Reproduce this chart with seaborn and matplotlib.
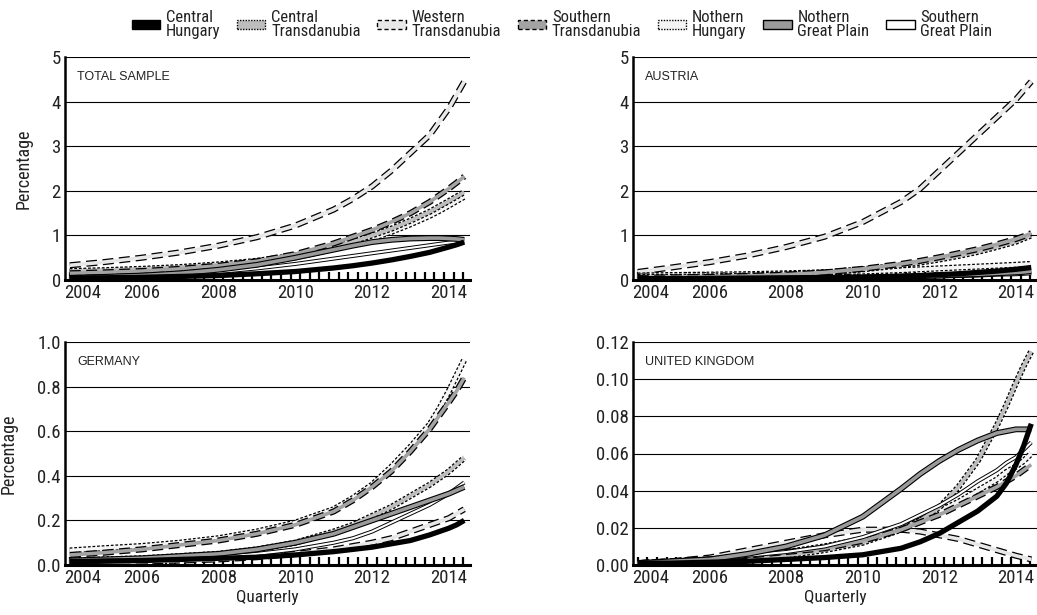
import numpy as np
import pandas as pd
import matplotlib
matplotlib.use("Agg")
import matplotlib.pyplot as plt
import seaborn as sns
from matplotlib.patches import Patch
from matplotlib.ticker import FixedLocator
from matplotlib import font_manager

# ---------------- data ----------------
years = [2004.125, 2005, 2006, 2007, 2008, 2009, 2010, 2011, 2011.5,
         2012, 2012.5, 2013, 2013.5, 2013.75, 2014, 2014.2, 2014.4]

regions = ["Central\nHungary", "Central\nTransdanubia", "Western\nTransdanubia",
           "Southern\nTransdanubia", "Nothern\nHungary", "Nothern\nGreat Plain",
           "Southern\nGreat Plain"]
region_keys = ["CH", "CT", "WT", "ST", "NH", "NGP", "SGP"]

panel_titles = ["TOTAL SAMPLE", "AUSTRIA", "GERMANY", "UNITED KINGDOM"]

# TOTAL SAMPLE
total_CH = [0.05, 0.05, 0.06, 0.08, 0.10, 0.14, 0.19, 0.27, 0.32, 0.38, 0.45, 0.53, 0.62, 0.68, 0.74, 0.79, 0.85]
total_CT = [0.20, 0.22, 0.25, 0.29, 0.35, 0.43, 0.55, 0.74, 0.86, 1.00, 1.15, 1.33, 1.53, 1.65, 1.77, 1.87, 1.97]
total_WT = [0.33, 0.40, 0.50, 0.62, 0.77, 0.96, 1.22, 1.58, 1.82, 2.10, 2.45, 2.85, 3.25, 3.55, 3.85, 4.15, 4.45]
total_ST = [0.15, 0.17, 0.20, 0.25, 0.32, 0.42, 0.58, 0.82, 0.97, 1.12, 1.30, 1.50, 1.75, 1.90, 2.05, 2.18, 2.32]
total_NH = [0.18, 0.20, 0.23, 0.27, 0.32, 0.40, 0.51, 0.69, 0.80, 0.93, 1.08, 1.25, 1.44, 1.55, 1.67, 1.77, 1.87]
total_NGP = [0.05, 0.07, 0.10, 0.15, 0.23, 0.34, 0.50, 0.68, 0.77, 0.85, 0.90, 0.93, 0.94, 0.94, 0.93, 0.92, 0.90]
total_SGP = [0.03, 0.05, 0.08, 0.12, 0.18, 0.26, 0.36, 0.48, 0.54, 0.60, 0.66, 0.72, 0.78, 0.81, 0.84, 0.86, 0.88]

# AUSTRIA
austria_CH = [0.03, 0.03, 0.03, 0.04, 0.04, 0.05, 0.06, 0.08, 0.10, 0.12, 0.14, 0.17, 0.20, 0.22, 0.24, 0.26, 0.28]
austria_CT = [0.07, 0.07, 0.08, 0.10, 0.13, 0.17, 0.24, 0.33, 0.39, 0.46, 0.54, 0.63, 0.74, 0.80, 0.86, 0.93, 1.00]
austria_WT = [0.18, 0.28, 0.40, 0.55, 0.74, 0.97, 1.30, 1.75, 2.05, 2.45, 2.85, 3.25, 3.65, 3.85, 4.05, 4.25, 4.45]
austria_ST = [0.05, 0.06, 0.07, 0.09, 0.12, 0.17, 0.25, 0.36, 0.43, 0.51, 0.60, 0.69, 0.80, 0.86, 0.92, 0.98, 1.05]
austria_NH = [0.10, 0.11, 0.12, 0.13, 0.15, 0.17, 0.19, 0.22, 0.24, 0.26, 0.28, 0.30, 0.32, 0.33, 0.34, 0.35, 0.36]
austria_NGP = [0.02, 0.02, 0.03, 0.03, 0.04, 0.05, 0.06, 0.08, 0.09, 0.10, 0.12, 0.13, 0.15, 0.16, 0.17, 0.18, 0.20]
austria_SGP = [0.01, 0.01, 0.02, 0.02, 0.03, 0.04, 0.05, 0.06, 0.07, 0.08, 0.09, 0.10, 0.12, 0.125, 0.13, 0.14, 0.15]

# GERMANY
germany_CH = [0.015, 0.018, 0.020, 0.025, 0.030, 0.035, 0.045, 0.060, 0.070, 0.080, 0.095, 0.110, 0.135, 0.150, 0.165, 0.180, 0.200]
germany_CT = [0.020, 0.025, 0.030, 0.040, 0.050, 0.070, 0.100, 0.150, 0.180, 0.220, 0.260, 0.310, 0.360, 0.390, 0.420, 0.450, 0.480]
germany_WT = [0.010, 0.012, 0.015, 0.020, 0.025, 0.035, 0.050, 0.070, 0.085, 0.100, 0.120, 0.150, 0.180, 0.195, 0.210, 0.230, 0.250]
germany_ST = [0.045, 0.055, 0.070, 0.090, 0.110, 0.140, 0.180, 0.240, 0.290, 0.350, 0.420, 0.510, 0.610, 0.670, 0.730, 0.780, 0.840]
germany_NH = [0.065, 0.075, 0.085, 0.100, 0.120, 0.150, 0.190, 0.250, 0.300, 0.360, 0.440, 0.530, 0.630, 0.700, 0.780, 0.850, 0.920]
germany_NGP = [0.020, 0.025, 0.030, 0.040, 0.050, 0.070, 0.100, 0.140, 0.170, 0.200, 0.230, 0.260, 0.290, 0.305, 0.320, 0.335, 0.350]
germany_SGP = [0.010, 0.015, 0.020, 0.025, 0.035, 0.050, 0.070, 0.100, 0.120, 0.150, 0.190, 0.230, 0.270, 0.295, 0.320, 0.345, 0.370]

# UNITED KINGDOM
uk_CH = [0.001, 0.001, 0.0015, 0.002, 0.003, 0.004, 0.0055, 0.009, 0.0125, 0.017, 0.023, 0.029, 0.037, 0.044, 0.054, 0.064, 0.076]
uk_CT = [0.001, 0.001, 0.002, 0.003, 0.005, 0.008, 0.012, 0.019, 0.024, 0.031, 0.042, 0.056, 0.075, 0.086, 0.098, 0.107, 0.115]
uk_WT = [0.001, 0.002, 0.004, 0.008, 0.012, 0.016, 0.019, 0.019, 0.018, 0.016, 0.014, 0.011, 0.008, 0.0065, 0.005, 0.004, 0.003]
uk_ST = [0.001, 0.002, 0.003, 0.005, 0.007, 0.009, 0.013, 0.019, 0.023, 0.027, 0.032, 0.037, 0.042, 0.045, 0.048, 0.051, 0.054]
uk_NH = [0.001, 0.002, 0.003, 0.005, 0.007, 0.010, 0.014, 0.020, 0.024, 0.029, 0.034, 0.040, 0.046, 0.050, 0.053, 0.056, 0.060]
uk_NGP = [0.001, 0.002, 0.003, 0.006, 0.010, 0.016, 0.026, 0.041, 0.049, 0.056, 0.062, 0.067, 0.071, 0.072, 0.073, 0.073, 0.073]
uk_SGP = [0.001, 0.002, 0.003, 0.005, 0.007, 0.010, 0.015, 0.022, 0.027, 0.032, 0.038, 0.045, 0.051, 0.055, 0.058, 0.062, 0.066]

y_ticks_top = [0, 1, 2, 3, 4, 5]
y_ticks_de = [0.0, 0.2, 0.4, 0.6, 0.8, 1.0]
y_ticks_uk = [0.00, 0.02, 0.04, 0.06, 0.08, 0.10, 0.12]
x_tick_years = [2004, 2006, 2008, 2010, 2012, 2014]

panels = [
    dict(CH=total_CH, CT=total_CT, WT=total_WT, ST=total_ST, NH=total_NH, NGP=total_NGP, SGP=total_SGP),
    dict(CH=austria_CH, CT=austria_CT, WT=austria_WT, ST=austria_ST, NH=austria_NH, NGP=austria_NGP, SGP=austria_SGP),
    dict(CH=germany_CH, CT=germany_CT, WT=germany_WT, ST=germany_ST, NH=germany_NH, NGP=germany_NGP, SGP=germany_SGP),
    dict(CH=uk_CH, CT=uk_CT, WT=uk_WT, ST=uk_ST, NH=uk_NH, NGP=uk_NGP, SGP=uk_SGP),
]

# ---------------- styles ----------------
DASH = (0, (1.8, 0.9))
DOT = (0, (0.45, 0.3))
# key: (outline linestyle, outline lw, fill colour, fill lw)
styles = {
    "CH": ("-", 3.8, None, 0),
    "CT": (DOT, 4.4, "#bdbdbd", 2.6),
    "WT": (DASH, 4.4, "#e8e8e8", 2.6),
    "ST": (DASH, 4.4, "#a3a3a3", 2.6),
    "NH": (DOT, 4.4, "#f4f4f4", 2.6),
    "NGP": ("-", 4.2, "#9a9a9a", 2.6),
    "SGP": ("-", 2.9, "#ffffff", 1.5),
}
draw_order = ["WT", "NH", "CT", "ST", "SGP", "NGP", "CH"]

# ---------------- fonts ----------------
sns.set_theme(style="white")
names = sorted({f.name for f in font_manager.fontManager.ttflist})
narrow = None
for cand in ["Liberation Sans Narrow", "Roboto Condensed", "Open Sans Condensed",
             "DejaVu Sans Condensed", "Noto Sans Condensed"]:
    if cand in names:
        narrow = cand
        break
if narrow is None:
    narrow = "Roboto"
plt.rcParams["font.family"] = [narrow, "DejaVu Sans"]
plt.rcParams["lines.solid_capstyle"] = "butt"
plt.rcParams["lines.dash_capstyle"] = "butt"

fig = plt.figure(figsize=(10.37, 6.15), dpi=100)
W, H = 1037, 615
rects = [
    (65, 57, 470, 280),
    (633, 57, 1037, 280),
    (65, 342, 470, 565),
    (633, 342, 1037, 565),
]
yticks_list = [y_ticks_top, y_ticks_top, y_ticks_de, y_ticks_uk]
ylabels_list = [[str(v) for v in y_ticks_top], [str(v) for v in y_ticks_top],
                [f"{v:.1f}" for v in y_ticks_de], [f"{v:.2f}" for v in y_ticks_uk]]

for i, (l, t, r, b) in enumerate(rects):
    ax = fig.add_axes([l / W, (H - b) / H, (r - l) / W, (b - t) / H])
    data = panels[i]
    for key in draw_order:
        ls, olw, fc, flw = styles[key]
        sns.lineplot(x=years, y=data[key], ax=ax, color="black", linewidth=olw,
                     linestyle=ls, legend=False, zorder=3)
        if fc is not None:
            sns.lineplot(x=years, y=data[key], ax=ax, color=fc, linewidth=flw,
                         linestyle="-", legend=False, zorder=3)
    yt = yticks_list[i]
    ax.set_ylim(yt[0], yt[-1])
    ax.set_xlim(2004.0, 2014.55)
    ax.set_yticks(yt)
    ax.set_yticklabels(ylabels_list[i])
    for v in yt[1:]:
        ax.axhline(v, color="black", lw=0.8, zorder=1)
    xt = [2004.45] + x_tick_years[1:]
    ax.set_xticks(xt)
    ax.set_xticklabels([str(y) for y in x_tick_years])
    ax.xaxis.set_minor_locator(FixedLocator(np.arange(2004.125, 2014.6, 0.25)))
    ax.tick_params(axis="x", which="major", length=0, labelsize=13.5, pad=3, colors="#222222")
    ax.tick_params(axis="x", which="minor", direction="in", length=5.5, width=1.6,
                   color="black", bottom=True)
    ax.tick_params(axis="y", length=0, labelsize=13.5, pad=3, colors="#222222")
    for s in ["top", "right"]:
        ax.spines[s].set_visible(False)
    ax.spines["left"].set_color("black")
    ax.spines["left"].set_linewidth(1.8)
    ax.spines["bottom"].set_color("black")
    ax.spines["bottom"].set_linewidth(2.2)
    ax.spines["bottom"].set_zorder(5)
    ax.set_xlabel("")
    ax.set_ylabel("")
    ax.text(0.03, 0.91, panel_titles[i], transform=ax.transAxes, fontsize=9,
            family=["Liberation Sans", "DejaVu Sans"], color="#222222", va="center", ha="left")
    if i in (0, 2):
        ax.set_ylabel("Percentage", fontsize=13, color="#222222", labelpad=14)
    if i in (2, 3):
        ax.set_xlabel("Quarterly", fontsize=12.5, color="#222222", labelpad=2)

# legend
handles = []
for key in region_keys:
    ls, olw, fc, flw = styles[key]
    if key == "CH":
        h = Patch(facecolor="black", edgecolor="black", linewidth=1.0)
    else:
        pls = "-" if ls == "-" else ((0, (3, 2)) if ls == DASH else (0, (1, 1)))
        h = Patch(facecolor=fc, edgecolor="black", linewidth=1.0, linestyle=pls)
    handles.append(h)
fig.legend(handles, regions, loc="upper center", bbox_to_anchor=(0.542, 1.008), ncol=7,
           frameon=False, fontsize=12, handlelength=1.7, handleheight=0.4,
           handletextpad=0.35, columnspacing=1.0, labelspacing=0.2)
for txt in fig.legends[0].get_texts():
    txt.set_linespacing(0.92)
    txt.set_color("#222222")

fig.savefig("out.png", dpi=100)
